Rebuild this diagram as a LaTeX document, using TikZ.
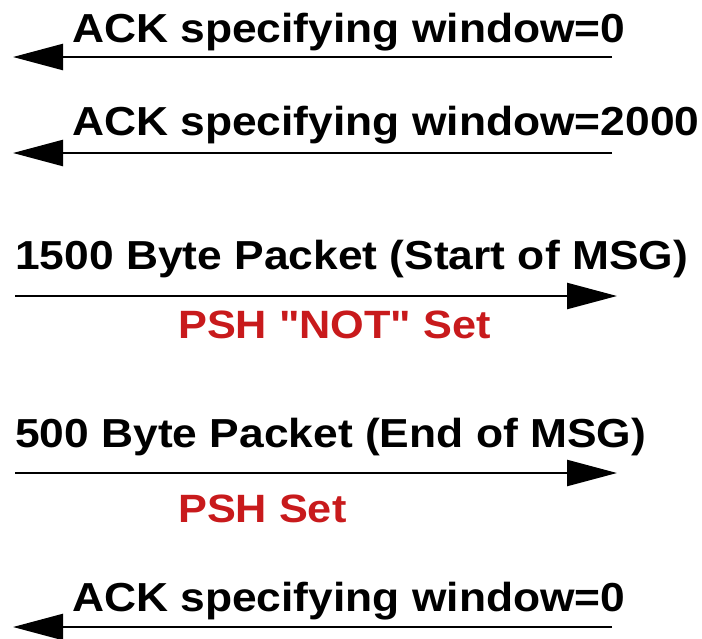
\documentclass[tikz,border=0pt]{standalone}
\usepackage{fontspec}
\setmainfont{Liberation Sans}[FakeStretch=1.095, Ligatures=TeXOff]
\usetikzlibrary{arrows.meta}
\definecolor{pshred}{RGB}{200,26,28}
\tikzset{
  lbl/.style={anchor=base west, inner sep=0pt, font=\fontsize{40.5}{40}\selectfont\bfseries},
  redlbl/.style={anchor=base west, inner sep=0pt, text=pshred, font=\fontsize{39.5}{40}\selectfont\bfseries},
  msg/.style={line width=2.4pt, -{Triangle[length=50pt, width=26pt]}}
}
\begin{document}
\begin{tikzpicture}[x=1pt, y=-1pt]
\useasboundingbox (0,0) rectangle (702,638);

% ACK, window closed
\node[lbl] (t1) at (72,42) {ACK specifying window=0};
\coordinate (a1r) at (612,57);
\coordinate (a1l) at (13,57);
\draw[msg] (a1r) -- (a1l);

% ACK, window reopened
\node[lbl] (t2) at (72,135) {ACK specifying window=2000};
\coordinate (a2r) at (612,153);
\coordinate (a2l) at (13,153);
\draw[msg] (a2r) -- (a2l);

% first data segment
\node[lbl] (t3) at (15,269) {1500 Byte Packet (Start of MSG)};
\coordinate (a3l) at (15,296);
\coordinate (a3r) at (617,296);
\draw[msg] (a3l) -- (a3r);
\node[redlbl] (p1) at (178,338) {PSH "NOT" Set};

% last data segment
\node[lbl] (t4) at (15,447) {500 Byte Packet (End of MSG)};
\coordinate (a4l) at (15,473);
\coordinate (a4r) at (617,473);
\draw[msg] (a4l) -- (a4r);
\node[redlbl] (p2) at (178,522) {PSH Set};

% ACK after the push
\node[lbl] (t5) at (72,611) {ACK specifying window=0};
\coordinate (a5r) at (612,627);
\coordinate (a5l) at (13,627);
\draw[msg] (a5r) -- (a5l);
\end{tikzpicture}
\end{document}
